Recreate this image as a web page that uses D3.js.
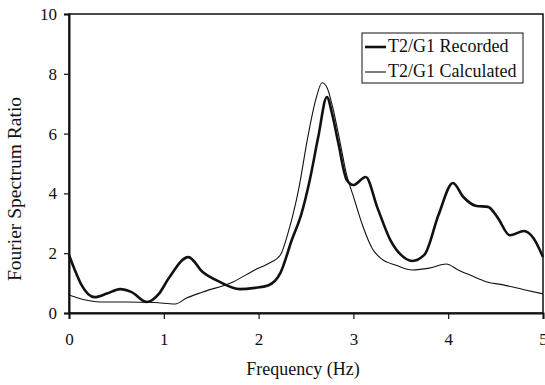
<!DOCTYPE html>
<html>
<head>
<meta charset="utf-8">
<script src="https://cdn.jsdelivr.net/npm/d3@7"></script>
<style>
  body { margin: 0; background: #fff; }
  svg { display: block; }
  text { font-family: "Liberation Serif", "Times New Roman", serif; fill: #111; }
</style>
</head>
<body>
<svg id="chart" width="545" height="385"></svg>
<script>
// recorded T2/G1 ratio
var freqRec = [0, 0.06, 0.13, 0.27, 0.4, 0.54, 0.66, 0.82, 0.95, 1.05, 1.26, 1.41, 1.59, 1.8, 1.96, 2.1, 2.23, 2.35, 2.45, 2.54, 2.63, 2.72, 2.78, 2.84, 2.93, 3.0, 3.13, 3.25, 3.39, 3.5, 3.62, 3.75, 3.9, 4.05, 4.16, 4.3, 4.42, 4.52, 4.65, 4.8, 4.9, 5.0];
var recorded = [1.94, 1.45, 0.95, 0.53, 0.65, 0.8, 0.7, 0.37, 0.65, 1.15, 1.87, 1.37, 1.04, 0.8, 0.84, 0.92, 1.34, 2.44, 3.3, 4.45, 5.9, 7.22, 6.6, 5.7, 4.45, 4.28, 4.55, 3.55, 2.44, 1.95, 1.74, 1.95, 3.3, 4.35, 3.88, 3.58, 3.55, 3.2, 2.6, 2.74, 2.5, 1.87];

// calculated T2/G1 ratio
var freqCalc = [0, 0.15, 0.33, 0.6, 0.9, 1.12, 1.24, 1.41, 1.73, 1.96, 2.1, 2.23, 2.31, 2.42, 2.52, 2.6, 2.67, 2.72, 2.78, 2.86, 2.93, 3.0, 3.1, 3.2, 3.3, 3.45, 3.62, 3.8, 3.98, 4.1, 4.23, 4.41, 4.58, 4.8, 5.0];
var calculated = [0.6, 0.45, 0.37, 0.37, 0.35, 0.3, 0.5, 0.7, 1.04, 1.44, 1.65, 1.94, 2.67, 4.1, 5.9, 7.1, 7.7, 7.55, 6.9, 5.7, 4.6, 3.9, 2.9, 2.15, 1.8, 1.6, 1.44, 1.5, 1.64, 1.45, 1.27, 1.04, 0.94, 0.78, 0.64];

var xTicks = [0, 1, 2, 3, 4, 5];
var yTicks = [0, 2, 4, 6, 8, 10];
var seriesNames = ["T2/G1 Recorded", "T2/G1 Calculated"];

var svg = d3.select("#chart");
var plot = { left: 69, right: 543, top: 14, bottom: 313 };

var x = d3.scaleLinear().domain([0, 5]).range([plot.left, plot.right]);
var y = d3.scaleLinear().domain([0, 10]).range([plot.bottom, plot.top]);

// plot frame
svg.append("rect")
    .attr("x", plot.left).attr("y", plot.top)
    .attr("width", plot.right - plot.left).attr("height", plot.bottom - plot.top)
    .attr("fill", "none").attr("stroke", "#111").attr("stroke-width", 1.5);

var xAxis = svg.append("g")
    .attr("transform", "translate(0," + plot.bottom + ")")
    .call(d3.axisBottom(x).tickValues(xTicks).tickFormat(d3.format("d")).tickSize(6).tickPadding(14));
var yAxis = svg.append("g")
    .attr("transform", "translate(" + plot.left + ",0)")
    .call(d3.axisLeft(y).tickValues(yTicks).tickFormat(d3.format("d")).tickSize(5).tickPadding(7));

[xAxis, yAxis].forEach(function(a) {
    a.select(".domain").attr("stroke", "#111").attr("stroke-width", 2);
    a.selectAll(".tick line").attr("stroke", "#111").attr("stroke-width", 1.2);
    a.selectAll(".tick text").style("font-family", "Liberation Serif").style("font-size", "17px").attr("fill", "#111");
});

var lineRec = d3.line()
    .x(function(d, i) { return x(freqRec[i]); })
    .y(function(d) { return y(d); })
    .curve(d3.curveMonotoneX);
var lineCalc = d3.line()
    .x(function(d, i) { return x(freqCalc[i]); })
    .y(function(d) { return y(d); })
    .curve(d3.curveMonotoneX);

svg.append("path").attr("d", lineCalc(calculated))
    .attr("fill", "none").attr("stroke", "#111").attr("stroke-width", 1.1);
svg.append("path").attr("d", lineRec(recorded))
    .attr("fill", "none").attr("stroke", "#111").attr("stroke-width", 2.6);

// axis titles
svg.append("text")
    .attr("x", (plot.left + plot.right) / 2 - 3).attr("y", 375)
    .attr("text-anchor", "middle").style("font-size", "18px")
    .text("Frequency (Hz)");
svg.append("text")
    .attr("transform", "translate(21,189) rotate(-90)")
    .attr("text-anchor", "middle").style("font-size", "19.5px")
    .text("Fourier Spectrum Ratio");

// legend
var legend = svg.append("g");
legend.append("rect")
    .attr("x", 362).attr("y", 33).attr("width", 161).attr("height", 50)
    .attr("fill", "#fff").attr("stroke", "#111").attr("stroke-width", 1);
seriesNames.forEach(function(name, i) {
    var ly = 47 + i * 25;
    legend.append("line")
        .attr("x1", 365).attr("x2", 386).attr("y1", ly).attr("y2", ly)
        .attr("stroke", "#111").attr("stroke-width", i === 0 ? 2.6 : 1.1);
    legend.append("text")
        .attr("x", 388).attr("y", ly + 5)
        .style("font-size", "18px")
        .text(name);
});
</script>
</body>
</html>
